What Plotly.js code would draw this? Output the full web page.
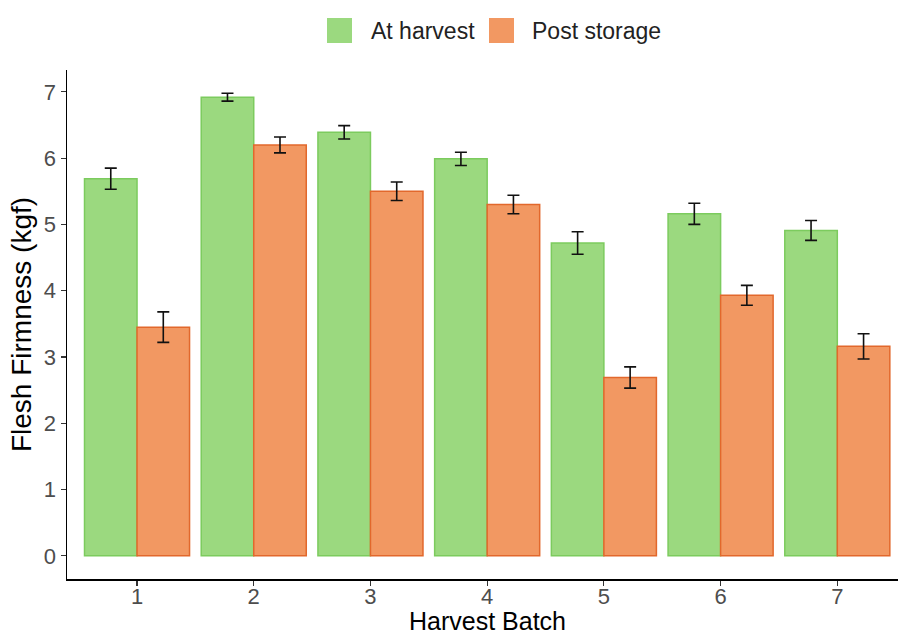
<!DOCTYPE html>
<html>
<head>
<meta charset="utf-8">
<script src="https://cdn.plot.ly/plotly-3.0.1.min.js"></script>
<style>html,body{margin:0;padding:0;background:#fff;}#chart{width:898px;height:637px;}</style>
</head>
<body>
<div id="chart"></div>
<script>
const batches = [1, 2, 3, 4, 5, 6, 7];
const atHarvest = [5.69, 6.92, 6.39, 5.99, 4.72, 5.16, 4.91];
const atHarvestErr = [0.16, 0.06, 0.10, 0.10, 0.17, 0.16, 0.15];
const postStorage = [3.45, 6.20, 5.50, 5.30, 2.69, 3.93, 3.16];
const postStorageErr = [0.23, 0.12, 0.14, 0.14, 0.16, 0.15, 0.19];
const seriesNames = ['At harvest', 'Post storage'];
const xTitle = 'Harvest Batch';
const yTitle = 'Flesh Firmness (kgf)';
const fillColors = ['#9bd97f', '#f29862'];
const edgeColors = ['#7ccb5e', '#e2682c'];

const font = 'Liberation Sans, Arial, sans-serif';

const traces = [
  {
    type: 'bar', name: seriesNames[0], x: batches, y: atHarvest, showlegend: false,
    marker: {color: fillColors[0], line: {color: edgeColors[0], width: 1.5}},
    error_y: {type: 'data', array: atHarvestErr, visible: true, color: '#111', thickness: 1.6, width: 6}
  },
  {
    type: 'bar', name: seriesNames[1], x: batches, y: postStorage, showlegend: false,
    marker: {color: fillColors[1], line: {color: edgeColors[1], width: 1.5}},
    error_y: {type: 'data', array: postStorageErr, visible: true, color: '#111', thickness: 1.6, width: 6}
  }
];

// Legend drawn as paper-referenced keys + text (plot area: x 67..898, y 70..579)
const W = 831, H = 509, L = 67, T = 70;
const px = v => (v - L) / W;
const py = v => (T + H - v) / H;
const keyLeft = [327, 489];
const textLeft = [369, 530];
const shapes = [];
const annotations = [];
for (let i = 0; i < 2; i++) {
  shapes.push({type: 'rect', xref: 'paper', yref: 'paper',
    x0: px(keyLeft[i]), x1: px(keyLeft[i] + 25), y0: py(43), y1: py(18),
    fillcolor: fillColors[i], line: {width: 0}});
  annotations.push({xref: 'paper', yref: 'paper', x: px(textLeft[i]), y: py(31),
    xanchor: 'left', yanchor: 'middle', showarrow: false, text: seriesNames[i],
    font: {size: 23, color: '#222', family: font}});
}
// x-axis title as annotation so it can sit at the very bottom like the reference
annotations.push({xref: 'paper', yref: 'paper', x: px(487), y: py(637),
  xanchor: 'center', yanchor: 'bottom', showarrow: false, text: xTitle,
  font: {size: 25, color: '#000', family: font}});

const layout = {
  width: 898, height: 637,
  margin: {l: 67, r: 0, t: 70, b: 58},
  paper_bgcolor: '#fff', plot_bgcolor: '#fff',
  font: {family: font, color: '#222'},
  barmode: 'group', bargap: 0.1, bargroupgap: 0,
  showlegend: false,
  shapes: shapes,
  annotations: annotations,
  xaxis: {
    range: [0.4, 7.52], tickvals: batches, ticktext: batches.map(String),
    showgrid: false, zeroline: false, showline: true, linecolor: '#000', linewidth: 1.5,
    ticks: 'outside', ticklen: 5, tickwidth: 1.2, tickcolor: '#333', ticklabelstandoff: -8,
    tickfont: {size: 22, color: '#4d4d4d', family: font}, automargin: false
  },
  yaxis: {
    range: [-0.35, 7.33], tickvals: [0,1,2,3,4,5,6,7],
    showgrid: false, zeroline: false, showline: true, linecolor: '#000', linewidth: 1.5,
    ticks: 'outside', ticklen: 5, tickwidth: 1.2, tickcolor: '#333',
    tickfont: {size: 22, color: '#4d4d4d', family: font}, automargin: false,
    title: {text: yTitle, font: {size: 28, color: '#000', family: font}, standoff: 4}
  }
};

Plotly.newPlot('chart', traces, layout, {displayModeBar: false, staticPlot: true});
</script>
</body>
</html>
